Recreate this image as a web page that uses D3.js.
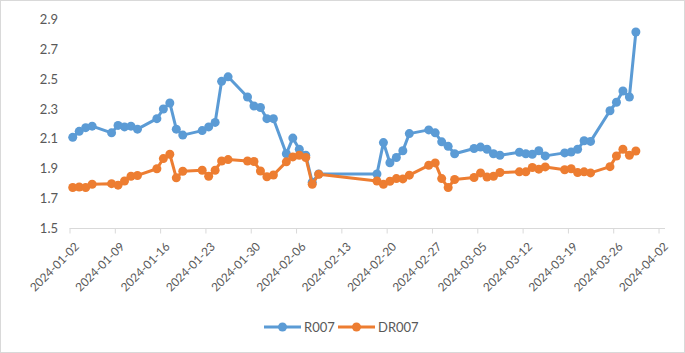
<!DOCTYPE html>
<html>
<head>
<meta charset="utf-8">
<script src="https://cdn.jsdelivr.net/npm/d3@7"></script>
<style>
  body { margin: 0; background: #fff; }
  svg text { font-family: Lato, "Liberation Sans", sans-serif; fill: #595959; }
</style>
</head>
<body>
<div id="chart"></div>
<script>
// trading days, Jan-Mar 2024
const dates = [
  '2024-01-02','2024-01-03','2024-01-04','2024-01-05','2024-01-08','2024-01-09','2024-01-10','2024-01-11','2024-01-12',
  '2024-01-15','2024-01-16','2024-01-17','2024-01-18','2024-01-19','2024-01-22','2024-01-23','2024-01-24','2024-01-25',
  '2024-01-26','2024-01-29','2024-01-30','2024-01-31',
  '2024-02-01','2024-02-02','2024-02-04','2024-02-05','2024-02-06','2024-02-07','2024-02-08','2024-02-09','2024-02-18',
  '2024-02-19','2024-02-20','2024-02-21','2024-02-22','2024-02-23','2024-02-26','2024-02-27','2024-02-28','2024-02-29',
  '2024-03-01','2024-03-04','2024-03-05','2024-03-06','2024-03-07','2024-03-08','2024-03-11','2024-03-12','2024-03-13',
  '2024-03-14','2024-03-15','2024-03-18','2024-03-19','2024-03-20','2024-03-21','2024-03-22','2024-03-25','2024-03-26',
  '2024-03-27','2024-03-28','2024-03-29'
];

const r007 = [
  2.11, 2.15, 2.175, 2.185, 2.14, 2.19, 2.18, 2.185, 2.165,
  2.235, 2.30, 2.34, 2.165, 2.125, 2.155, 2.18, 2.21, 2.485,
  2.515, 2.38, 2.32, 2.31,
  2.235, 2.235, 2.00, 2.105, 2.03, 1.99, 1.81, 1.865, 1.865,
  2.075, 1.94, 1.975, 2.02, 2.135, 2.16, 2.14, 2.08, 2.05,
  2.00, 2.035, 2.045, 2.03, 2.00, 1.99, 2.01, 2.00, 1.997,
  2.02, 1.986, 2.006, 2.012, 2.03, 2.087, 2.083, 2.288, 2.345,
  2.42, 2.38, 2.815
];

const dr007 = [
  1.774, 1.778, 1.774, 1.796, 1.80, 1.79, 1.818, 1.85, 1.855,
  1.90, 1.968, 1.997, 1.839, 1.883, 1.89, 1.85, 1.89, 1.952,
  1.961, 1.952, 1.948, 1.885,
  1.846, 1.858, 1.946, 1.979, 1.99, 1.975, 1.796, 1.863, 1.818,
  1.796, 1.816, 1.834, 1.832, 1.857, 1.923, 1.939, 1.834, 1.774,
  1.828, 1.841, 1.872, 1.845, 1.85, 1.875, 1.879, 1.879, 1.908,
  1.897, 1.912, 1.893, 1.90, 1.875, 1.879, 1.872, 1.914, 1.985,
  2.03, 1.99, 2.019
];

const yTicks = [1.5, 1.7, 1.9, 2.1, 2.3, 2.5, 2.7, 2.9];
const seriesNames = ['R007', 'DR007'];
const colors = ['#5B9BD5', '#ED7D31'];

const width = 685, height = 353;
const parse = d3.timeParse('%Y-%m-%d');
const fmt = d3.timeFormat('%Y-%m-%d');

const svg = d3.select('#chart').append('svg')
  .attr('width', width)
  .attr('height', height);

// outer border
svg.append('rect')
  .attr('x', 0.5).attr('y', 0.5)
  .attr('width', width - 1).attr('height', height - 1)
  .attr('fill', '#fff')
  .attr('stroke', '#d9d9d9');

const x = d3.scaleTime()
  .domain([parse('2024-01-02'), parse('2024-04-03')])
  .range([69.5, 665]);

const y = d3.scaleLinear()
  .domain([1.5, 2.9])
  .range([228.5, 19.3]);

// points sit in the middle of their day
const xPos = d => x(d3.timeHour.offset(parse(d), 12));

// x axis, a tick every 7 days
const xAxis = svg.append('g')
  .attr('transform', 'translate(0,228.5)')
  .call(d3.axisBottom(x)
    .tickValues(d3.timeDay.range(parse('2024-01-02'), parse('2024-04-03'), 7))
    .tickSize(5)
    .tickFormat(fmt));
xAxis.select('.domain').attr('stroke', '#d9d9d9').attr('d', 'M69.5,0H665');
xAxis.selectAll('.tick line').attr('stroke', '#d9d9d9');
xAxis.selectAll('.tick text')
  .attr('font-size', 11.8)
  .attr('text-anchor', 'end')
  .attr('y', 0).attr('dy', '0.35em')
  .attr('transform', 'translate(7,16) rotate(-45)');

// y axis labels (no line)
svg.append('g')
  .selectAll('text')
  .data(yTicks)
  .enter().append('text')
  .attr('x', 58)
  .attr('y', d => y(d))
  .attr('dy', '0.35em')
  .attr('text-anchor', 'end')
  .attr('font-size', 13)
  .text(d => d.toFixed(1));

// series
[r007, dr007].forEach((vals, i) => {
  const pts = dates.map((d, j) => ({ d, v: vals[j] }));
  const line = d3.line().x(p => xPos(p.d)).y(p => y(p.v));
  const g = svg.append('g');
  g.append('path')
    .datum(pts)
    .attr('d', line)
    .attr('fill', 'none')
    .attr('stroke', colors[i])
    .attr('stroke-width', 3)
    .attr('stroke-linejoin', 'round');
  g.selectAll('circle')
    .data(pts)
    .enter().append('circle')
    .attr('cx', p => xPos(p.d))
    .attr('cy', p => y(p.v))
    .attr('r', 4.5)
    .attr('fill', colors[i]);
});

// legend
const legend = svg.append('g').attr('transform', 'translate(0,327)');
const legendX = [264, 338];
seriesNames.forEach((name, i) => {
  const lg = legend.append('g').attr('transform', `translate(${legendX[i]},0)`);
  lg.append('line')
    .attr('x1', 0).attr('x2', 37)
    .attr('stroke', colors[i]).attr('stroke-width', 3);
  lg.append('circle')
    .attr('cx', 18.5).attr('r', 4.5)
    .attr('fill', colors[i]);
  lg.append('text')
    .attr('x', 40).attr('dy', '0.35em')
    .attr('font-size', 13)
    .text(name);
});
</script>
</body>
</html>
